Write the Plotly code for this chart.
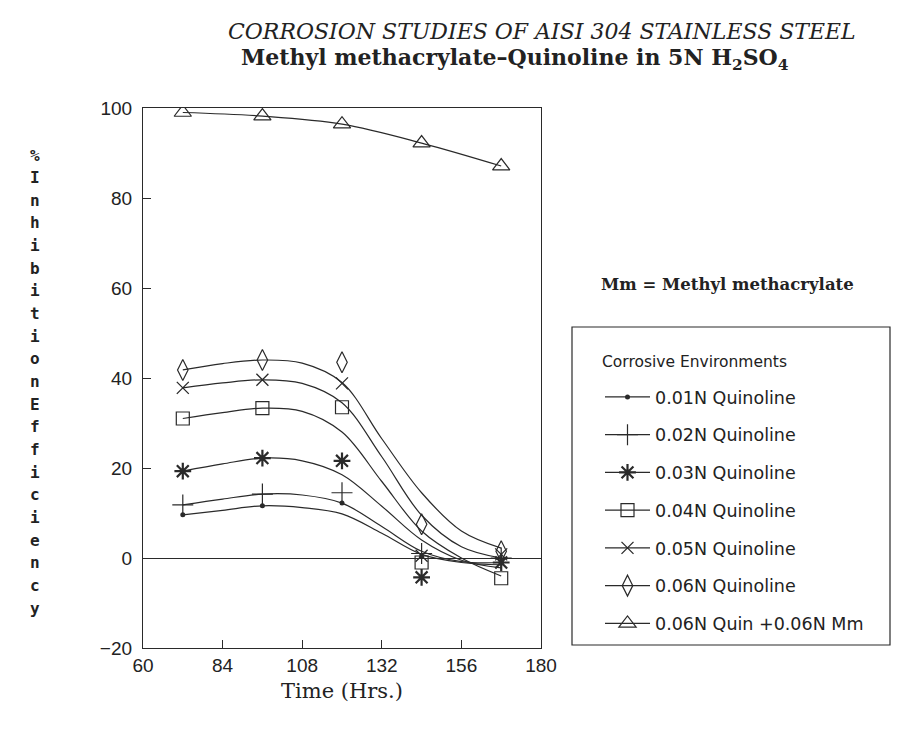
import plotly.graph_objects as go

# ---------------- data ----------------
hours = [72, 96, 120, 144, 168]
q001 = [9.6, 11.6, 12.2, 0.3, -1.0]
q002 = [11.8, 14.2, 14.5, 1.0, 0.0]
q003 = [19.3, 22.2, 21.6, -4.3, -1.0]
q004 = [31.0, 33.3, 33.5, -1.0, -4.5]
q005 = [37.8, 39.6, 38.8, 0.5, 0.8]
q006 = [41.8, 44.0, 43.5, 7.5, 1.5]
quin_mm = [99.0, 98.2, 96.4, 92.2, 87.1]

# smooth fitted curves as drawn in the picture (read at these hours)
fit_hours = [72, 84, 96, 108, 120, 132, 144, 156, 168]
fit001 = [9.6, 10.6, 11.6, 11.2, 9.8, 5.5, 0.8, -1.0, -1.5]
fit002 = [11.8, 13.1, 14.2, 14.0, 12.2, 7.0, 1.5, -0.8, -1.0]
fit003 = [19.3, 20.9, 22.2, 21.6, 18.5, 11.5, 4.0, -0.5, -2.2]
fit004 = [31.0, 32.3, 33.3, 32.6, 28.0, 17.0, 6.0, 0.0, -4.0]
fit005 = [37.8, 38.9, 39.6, 38.8, 34.5, 22.5, 9.5, 2.5, 0.0]
fit006 = [41.8, 43.2, 44.0, 43.3, 39.0, 26.5, 14.5, 6.0, 2.2]

names = ["0.01N Quinoline", "0.02N Quinoline", "0.03N Quinoline",
         "0.04N Quinoline", "0.05N Quinoline", "0.06N Quinoline",
         "0.06N Quin +0.06N Mm"]
x_ticks = [60, 84, 108, 132, 156, 180]
y_ticks = [-20, 0, 20, 40, 60, 80, 100]
y_title_chars = list("%InhibitionEfficiency")

# ---------------- styling ----------------
INK = "#2a2a2a"
W, H = 906, 731
L, R, T, B = 143, 541, 108, 648  # plot-area pixel box


def px(xp):
    return (xp - L) / (R - L)


def py(yp):
    return (B - yp) / (B - T)


marker_styles = [
    dict(symbol="circle", size=5, color=INK, line=dict(width=0, color=INK)),
    dict(symbol="cross-thin", size=15, color=INK, line=dict(width=1.2, color=INK)),
    dict(symbol="asterisk", size=14, color=INK, line=dict(width=2.2, color=INK)),
    dict(symbol="square-open", size=13, color=INK, line=dict(width=1.2, color=INK)),
    dict(symbol="x-thin", size=12, color=INK, line=dict(width=1.3, color=INK)),
    dict(symbol="diamond-tall-open", size=15, color=INK, line=dict(width=1.2, color=INK)),
    dict(symbol="triangle-up-open", size=15, color=INK, line=dict(width=1.2, color=INK)),
]

marks = [q001, q002, q003, q004, q005, q006]
fits = [fit001, fit002, fit003, fit004, fit005, fit006]

fig = go.Figure()

for i in range(6):
    fig.add_trace(go.Scatter(
        x=fit_hours, y=fits[i], mode="lines",
        line=dict(color=INK, width=1.2, shape="spline", smoothing=1.0),
        showlegend=False, hoverinfo="skip", legendgroup=f"g{i}"))
    fig.add_trace(go.Scatter(
        x=hours, y=marks[i], mode="markers", marker=marker_styles[i],
        showlegend=False, name=names[i], legendgroup=f"g{i}"))
    fig.add_trace(go.Scatter(
        x=[None], y=[None], mode="lines+markers", name=names[i],
        line=dict(color=INK, width=1.2), marker=marker_styles[i],
        legendgroup=f"g{i}"))

fig.add_trace(go.Scatter(
    x=hours, y=quin_mm, mode="lines+markers", name=names[6],
    line=dict(color=INK, width=1.2, shape="spline"),
    marker=marker_styles[6], legendgroup="g6"))

axis_common = dict(showline=True, linecolor=INK, linewidth=1.2, mirror=True,
                   showgrid=False, ticks="inside", ticklen=8,
                   tickcolor=INK, tickwidth=1.2,
                   tickfont=dict(family="Liberation Sans", size=19, color="#222"))

fig.update_xaxes(range=[60, 180], tickvals=x_ticks, zeroline=False,
                 title=dict(text="Time (Hrs.)", standoff=8,
                            font=dict(family="DejaVu Serif", size=21, color="#222")),
                 **axis_common)
fig.update_yaxes(range=[-20, 100], tickvals=y_ticks, zeroline=True,
                 zerolinecolor=INK, zerolinewidth=1.2, ticklabelstandoff=6,
                 **axis_common)


def note(text, xp, yp, family, size, xanchor="center"):
    return dict(text=text, x=px(xp), y=py(yp), xref="paper", yref="paper",
                xanchor=xanchor, yanchor="middle", showarrow=False,
                font=dict(family=family, size=size, color="#222"))


annotations = [
    note("<i>CORROSION STUDIES OF AISI 304 STAINLESS STEEL</i>", 542, 32,
         "DejaVu Serif", 22),
    note("<b>Methyl methacrylate\u2013Quinoline in 5N H<sub>2</sub>SO<sub>4</sub></b>",
         515, 59, "DejaVu Serif", 22),
    note("<b>Mm = Methyl methacrylate</b>", 727, 284, "DejaVu Serif", 16.5),
    note("Corrosive Environments", 600, 362, "DejaVu Sans", 15.5, xanchor="left"),
]
for k, ch in enumerate(y_title_chars):
    annotations.append(note("<b>" + ch + "</b>", 35, 155 + k * 22.65,
                            "DejaVu Sans Mono", 16))

fig.update_layout(
    width=W, height=H, autosize=False,
    margin=dict(l=L, r=W - R, t=T, b=H - B),
    paper_bgcolor="white", plot_bgcolor="white",
    annotations=annotations,
    shapes=[dict(type="rect", xref="paper", yref="paper",
                 x0=px(572), x1=px(890), y0=py(645), y1=py(327),
                 line=dict(color=INK, width=1.2))],
    legend=dict(
        x=px(600), y=py(379), xanchor="left", yanchor="top",
        bgcolor="rgba(0,0,0,0)", borderwidth=0,
        font=dict(family="DejaVu Sans", size=17.5, color="#222"),
        traceorder="grouped", tracegroupgap=12, itemwidth=45,
    ),
)

fig.write_html("out.html")
